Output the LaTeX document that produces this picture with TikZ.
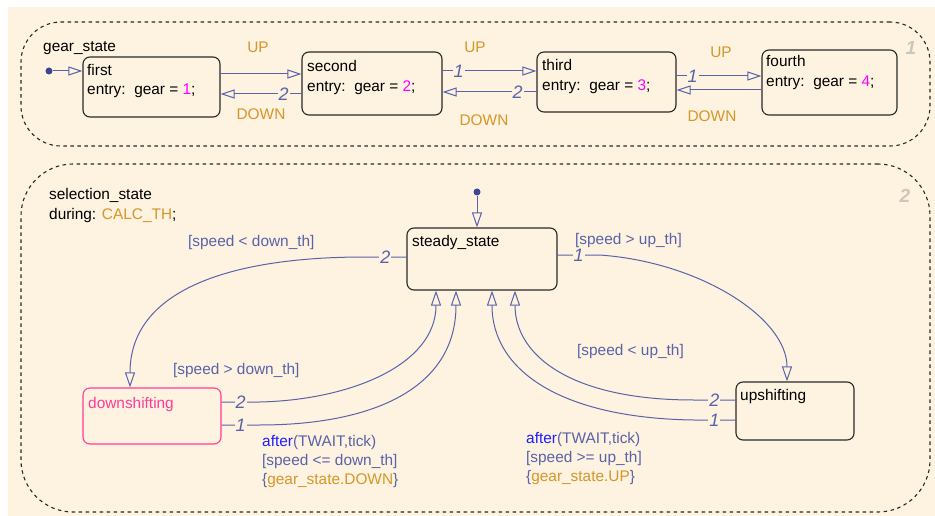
\documentclass[tikz,border=0pt]{standalone}
\usepackage{fontspec}
\setmainfont{Liberation Sans}
\usetikzlibrary{arrows.meta}
\definecolor{bg}{RGB}{253,243,224}
\definecolor{conn}{RGB}{90,98,168}
\definecolor{org}{RGB}{214,150,42}
\definecolor{mag}{RGB}{255,0,255}
\definecolor{pinkst}{RGB}{255,60,150}
\definecolor{aftc}{RGB}{30,30,255}
\definecolor{edgec}{RGB}{40,40,40}
\definecolor{rgnum}{RGB}{205,198,186}
\definecolor{dotc}{RGB}{60,70,150}
\begin{document}
\begin{tikzpicture}[x=1pt,y=-1pt,
  every node/.style={font=\fontsize{15.4}{19}\selectfont},
  stbox/.style={draw=edgec, line width=1.1pt, rounded corners=7pt, inner sep=0pt},
  region/.style={draw=edgec, line width=1.1pt, dash pattern=on 3.5pt off 3.5pt, inner sep=0pt},
  tr/.style={draw=conn, line width=1pt, -{Triangle[open, length=14pt, width=9pt]}},
  trb/.style={tr, -{Triangle[open, length=15pt, width=10pt]}},
  num/.style={fill=bg, inner sep=1pt, text=conn, font=\fontsize{18}{18}\selectfont\itshape},
  txt/.style={anchor=base west, inner sep=0pt},
  lbl/.style={txt, text=conn},
  ev/.style={anchor=base, inner sep=0pt, text=org},
  rgn/.style={anchor=base, inner sep=0pt, text=rgnum, font=\fontsize{19}{19}\selectfont\bfseries\itshape},
  initdot/.style={circle, fill=dotc, inner sep=0pt, minimum size=7pt}]
\useasboundingbox (0,0) rectangle (935,516);
\fill[white] (0,0) rectangle (935,516);
\fill[bg] (8,7) rectangle (935,516);

% regions
\node[region, rounded corners=40pt, minimum width=909pt, minimum height=124pt] (gearregion) at (475.5,84) {};
\node[region, rounded corners=52pt, minimum width=909pt, minimum height=348pt] (selregion) at (475.5,338) {};
\node[rgn] (rgone) at (911,55) {1};
\node[rgn] (rgtwo) at (905,203) {2};

% gear_state
\node[txt] (gslbl) at (43,52) {gear\_state};
\node[stbox, minimum width=137pt, minimum height=60pt] (first) at (151.5,87) {};
\node[stbox, minimum width=140pt, minimum height=63pt] (second) at (372,83.5) {};
\node[stbox, minimum width=139pt, minimum height=60pt] (third) at (606.5,82) {};
\node[stbox, minimum width=135pt, minimum height=65pt] (fourth) at (829.5,82.5) {};
\node[txt] (firstA) at (87,76) {first};
\node[txt] (firstB) at (87,95) {entry:\ \ gear = \textcolor{mag}{1};};
\node[txt] (secondA) at (307,72) {second};
\node[txt] (secondB) at (307,92) {entry:\ \ gear = \textcolor{mag}{2};};
\node[txt] (thirdA) at (542,71) {third};
\node[txt] (thirdB) at (542,91) {entry:\ \ gear = \textcolor{mag}{3};};
\node[txt] (fourthA) at (766,67) {fourth};
\node[txt] (fourthB) at (766,87) {entry:\ \ gear = \textcolor{mag}{4};};

\node[initdot] (initA) at (49,71) {};
\draw[tr] (initA) -- ([yshift=16pt]first.west);
\draw[tr] ([yshift=13pt]first.east) -- ([yshift=9.5pt]second.west);
\draw[tr] ([yshift=-10.5pt]second.west) -- node[num, pos=0.22] {2} ([yshift=-7pt]first.east);
\draw[tr] ([yshift=12.5pt]second.east) -- node[num, pos=0.17] {1} ([yshift=11pt]third.west);
\draw[tr] ([yshift=-10pt]third.west) -- node[num, pos=0.2] {2} ([yshift=-8.5pt]second.east);
\draw[tr] ([yshift=6pt]third.east) -- node[num, pos=0.19] {1} ([yshift=6.5pt]fourth.west);
\draw[tr] ([yshift=-7.5pt]fourth.west) -- ([yshift=-8pt]third.east);

\node[ev] (upA) at (258,53) {UP};
\node[ev] (upB) at (475,53) {UP};
\node[ev] (upC) at (721,58) {UP};
\node[ev] (downA) at (261,120) {DOWN};
\node[ev] (downB) at (484,126) {DOWN};
\node[ev] (downC) at (712,122) {DOWN};

% selection_state
\node[txt] (sslbl) at (49,200) {selection\_state};
\node[txt] (ssdur) at (49,219) {during: \textcolor{org}{CALC\_TH};};
\node[stbox, minimum width=150pt, minimum height=62pt] (steady) at (482,259) {};
\node[stbox, draw=pinkst, minimum width=138pt, minimum height=56pt] (down) at (152,416) {};
\node[stbox, minimum width=118pt, minimum height=58pt] (up) at (795,411) {};
\node[txt] (steadylbl) at (412,246) {steady\_state};
\node[txt, text=pinkst] (downlbl) at (88,408) {downshifting};
\node[txt] (uplbl) at (740,400) {upshifting};

\node[initdot] (initB) at (477,192) {};
\draw[trb] (initB) -- ([xshift=-5pt]steady.north);

\draw[trb] ([yshift=2pt]steady.west) -- node[num] {2} ++(-42,0)
  .. controls (230,257) and (130,290) .. ([xshift=-22pt]down.north);
\draw[trb] ([yshift=4pt]steady.east) -- node[num] {1} ++(42,0)
  .. controls (700,262) and (787,318) .. ([xshift=-8pt]up.north);
\draw[trb] ([yshift=14pt]down.east) -- node[num] {2} ++(38,0)
  .. controls (350,400) and (436,365) .. ([xshift=-46pt]steady.south);
\draw[trb] ([yshift=-9pt]down.east) -- node[num] {1} ++(38,0)
  .. controls (370,425) and (456,390) .. ([xshift=-26pt]steady.south);
\draw[trb] ([yshift=11pt]up.west) -- node[num] {2} ++(-42,0)
  .. controls (570,400) and (515,355) .. ([xshift=33pt]steady.south);
\draw[trb] ([yshift=-9pt]up.west) -- node[num] {1} ++(-42,0)
  .. controls (560,418) and (492,370) .. ([xshift=10pt]steady.south);

\node[lbl] (gA) at (188,247) {[speed < down\_th]};
\node[lbl] (gB) at (575,244) {[speed > up\_th]};
\node[lbl] (gC) at (173,374) {[speed > down\_th]};
\node[lbl] (gD) at (577,355) {[speed < up\_th]};
\node[lbl] (aA) at (262,446) {\textcolor{aftc}{after}(TWAIT,tick)};
\node[lbl] (aB) at (262,465) {[speed <= down\_th]};
\node[lbl] (aC) at (262,484) {\{\textcolor{org}{gear\_state.DOWN}\}};
\node[lbl] (bA) at (526,443) {\textcolor{aftc}{after}(TWAIT,tick)};
\node[lbl] (bB) at (526,462) {[speed >= up\_th]};
\node[lbl] (bC) at (526,481) {\{\textcolor{org}{gear\_state.UP}\}};
\end{tikzpicture}
\end{document}
